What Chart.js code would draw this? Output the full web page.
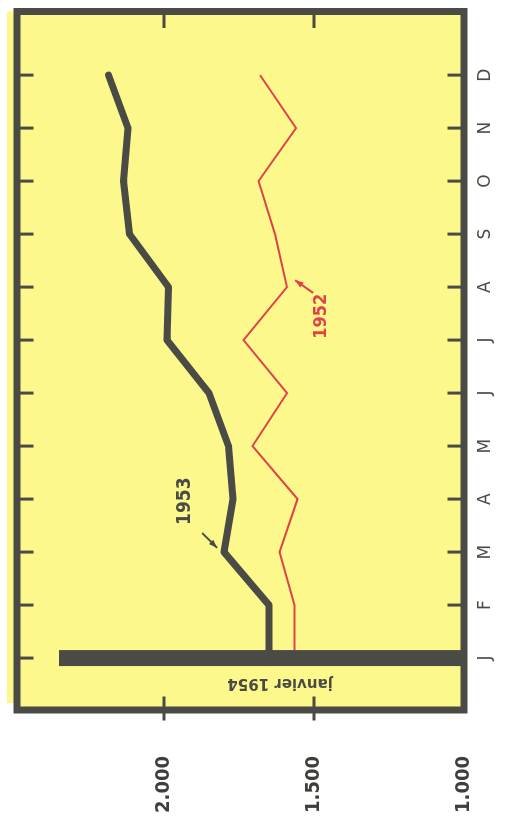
<!DOCTYPE html>
<html>
<head>
<meta charset="utf-8">
<script src="https://cdn.jsdelivr.net/npm/chart.js@4.4.1/dist/chart.umd.min.js"></script>
<style>
  html, body { margin: 0; padding: 0; background: #ffffff; overflow: hidden; width: 505px; height: 836px; }
  #wrap { position: absolute; left: 0; top: 0; width: 836px; height: 505px;
          transform-origin: 0 0; transform: translateY(836px) rotate(-90deg); }
</style>
</head>
<body>
<div id="wrap"><canvas id="c" width="836" height="505"></canvas></div>
<script>
// ---- data ----
const months = ['J','F','M','A','M','J','J','A','S','O','N','D'];
const values1953 = [1650, 1650, 1800, 1770, 1785, 1850, 1990, 1985, 2115, 2135, 2120, 2185];
const values1952 = [1565, 1565, 1615, 1555, 1705, 1590, 1735, 1590, 1630, 1685, 1560, 1680];
const janvier1954 = 2350;
const valueTicks = [1000, 1500, 2000];
const seriesLabels = ['1953', '1952'];
const barLabel = 'janvier 1954';

const DARK = '#4b4b46';
const RED = '#e0424a';
const YELLOW = '#fcf88c';

function fmt(v) { return (v / 1000).toFixed(3); }

const decor = {
  id: 'decor',
  beforeDraw(chart) {
    const { ctx, chartArea: a } = chart;
    ctx.save();
    ctx.fillStyle = YELLOW;
    ctx.fillRect(a.left, a.top, a.right - a.left, a.bottom - a.top);
    ctx.fillRect(a.left + 7, a.top - 10, a.right - a.left - 7, 10);
    ctx.restore();
  },
  afterDraw(chart) {
    const { ctx, chartArea: a, scales } = chart;
    const xs = scales.x, ys = scales.y;
    ctx.save();
    // frame
    ctx.strokeStyle = DARK;
    ctx.lineWidth = 7;
    ctx.lineJoin = 'miter';
    ctx.strokeRect(a.left, a.top, a.right - a.left, a.bottom - a.top);
    // month ticks (inward, top and bottom)
    ctx.lineWidth = 3;
    ctx.beginPath();
    months.forEach((m, i) => {
      const x = xs.getPixelForValue(i);
      ctx.moveTo(x, a.top); ctx.lineTo(x, a.top + 16.5);
      ctx.moveTo(x, a.bottom); ctx.lineTo(x, a.bottom - 16.5);
    });
    // value ticks
    valueTicks.forEach(v => {
      if (v <= ys.min) return;
      const y = ys.getPixelForValue(v);
      ctx.moveTo(a.left - 10.5, y); ctx.lineTo(a.left + 13.5, y);
      ctx.moveTo(a.right, y); ctx.lineTo(a.right - 16.5, y);
    });
    ctx.stroke();

    // annotations
    function arrow(x1, y1, x2, y2, color) {
      const p1 = [xs.getPixelForValue(x1), ys.getPixelForValue(y1)];
      const p2 = [xs.getPixelForValue(x2), ys.getPixelForValue(y2)];
      const ang = Math.atan2(p2[1] - p1[1], p2[0] - p1[0]);
      ctx.strokeStyle = color; ctx.fillStyle = color;
      ctx.lineWidth = 2;
      ctx.beginPath(); ctx.moveTo(p1[0], p1[1]); ctx.lineTo(p2[0], p2[1]); ctx.stroke();
      ctx.beginPath();
      ctx.moveTo(p2[0], p2[1]);
      ctx.lineTo(p2[0] - 9 * Math.cos(ang - 0.35), p2[1] - 9 * Math.sin(ang - 0.35));
      ctx.lineTo(p2[0] - 9 * Math.cos(ang + 0.35), p2[1] - 9 * Math.sin(ang + 0.35));
      ctx.closePath(); ctx.fill();
    }
    ctx.textAlign = 'center';
    ctx.textBaseline = 'middle';
    // 1953
    ctx.fillStyle = DARK;
    ctx.font = 'bold 19px "Liberation Sans Narrow", "DejaVu Sans Condensed", sans-serif';
    ctx.fillText(seriesLabels[0], xs.getPixelForValue(2.96), ys.getPixelForValue(1930));
    arrow(2.36, 1873, 2.08, 1823, DARK);
    // 1952
    ctx.fillStyle = RED;
    ctx.font = 'bold 18px "DejaVu Sans Condensed", "DejaVu Sans", sans-serif';
    ctx.fillText(seriesLabels[1], xs.getPixelForValue(6.45), ys.getPixelForValue(1477));
    arrow(6.89, 1503, 7.13, 1563, RED);
    // janvier 1954 (vertical)
    ctx.save();
    ctx.translate(xs.getPixelForValue(0) - 25, ys.getPixelForValue(1613));
    ctx.rotate(-Math.PI / 2);
    ctx.fillStyle = DARK;
    ctx.font = 'bold 15px "DejaVu Sans", sans-serif';
    ctx.fillText(barLabel, 0, 0);
    ctx.restore();
    ctx.restore();
  }
};

new Chart(document.getElementById('c'), {
  type: 'line',
  data: {
    datasets: [
      {
        label: barLabel,
        data: [{ x: 0, y: 1000 }, { x: 0, y: janvier1954 }],
        borderColor: DARK, borderWidth: 16, borderCapStyle: 'butt',
        pointRadius: 0, order: 0
      },
      {
        label: seriesLabels[0],
        data: values1953.map((v, i) => ({ x: i, y: v })),
        borderColor: DARK, borderWidth: 7, borderJoinStyle: 'round', borderCapStyle: 'round',
        pointRadius: 0, tension: 0, order: 1
      },
      {
        label: seriesLabels[1],
        data: values1952.map((v, i) => ({ x: i, y: v })),
        borderColor: RED, borderWidth: 2, borderJoinStyle: 'miter',
        pointRadius: 0, tension: 0, order: 2
      }
    ]
  },
  options: {
    responsive: false,
    animation: false,
    devicePixelRatio: 1,
    layout: { padding: { top: 17, right: 11.5, left: 0, bottom: 0 } },
    plugins: { legend: { display: false }, tooltip: { enabled: false } },
    scales: {
      x: {
        type: 'linear', position: 'bottom', min: -0.98, max: 12.2,
        grid: { display: false, drawTicks: false }, border: { display: false },
        afterBuildTicks: s => { s.ticks = months.map((m, i) => ({ value: i })); },
        afterFit: s => { s.height = 41; s.paddingLeft = 0; s.paddingRight = 0; },
        ticks: {
          autoSkip: false, maxRotation: 0, minRotation: 0, padding: 11,
          color: DARK, font: { family: '"DejaVu Sans", sans-serif', size: 17 },
          callback: v => months[v]
        }
      },
      y: {
        type: 'linear', position: 'left', min: 1000, max: 2490,
        grid: { display: false, drawTicks: false }, border: { display: false },
        afterBuildTicks: s => { s.ticks = valueTicks.map(v => ({ value: v })); },
        afterFit: s => { s.width = 126; s.paddingTop = 0; s.paddingBottom = 0; },
        ticks: {
          padding: 46, color: '#3e3e3a',
          font: { family: '"DejaVu Sans Condensed", "DejaVu Sans", sans-serif', size: 20, weight: 'bold' },
          callback: v => fmt(v)
        }
      }
    }
  },
  plugins: [decor]
});
</script>
</body>
</html>
